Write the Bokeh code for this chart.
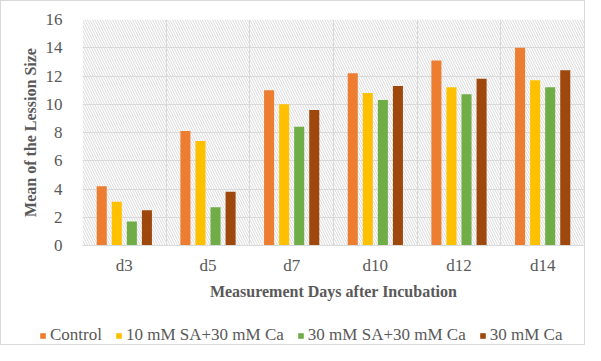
from bokeh.plotting import figure
from bokeh.models import ColumnDataSource, FixedTicker, BoxAnnotation, Legend, LegendItem
from bokeh.embed import file_html
from bokeh.resources import INLINE

days = ["d3", "d5", "d7", "d10", "d12", "d14"]
series_names = ["Control", "10 mM SA+30 mM Ca", "30 mM SA+30 mM Ca", "30 mM Ca"]
control = [4.2, 8.1, 11.0, 12.2, 13.1, 14.0]
sa10_ca30 = [3.1, 7.4, 10.0, 10.8, 11.2, 11.7]
sa30_ca30 = [1.7, 2.7, 8.4, 10.3, 10.7, 11.2]
ca30 = [2.5, 3.8, 9.6, 11.3, 11.8, 12.4]
y_ticks = [0, 2, 4, 6, 8, 10, 12, 14, 16]

colors = ["#ED7D31", "#FFC000", "#70AD47", "#9E480E"]
offsets = [-0.27, -0.09, 0.09, 0.27]
FONT = "Liberation Serif"
GRAY = "#595959"
BORDER = "1px solid #d9d9d9"

p = figure(width=585, height=318, output_backend="svg", toolbar_location=None,
           x_range=(0, len(days)), y_range=(0, 16),
           min_border_left=81, min_border_right=2, min_border_top=18, min_border_bottom=74)
p.outline_line_color = None
p.styles = {"border-top": BORDER, "border-left": BORDER, "border-right": BORDER}

bg = BoxAnnotation(fill_color="white", fill_alpha=1.0, hatch_pattern="\\", hatch_color="#d9d9d9",
                   hatch_scale=5, hatch_weight=1, line_color=None, level="image")
p.add_layout(bg)

centers = [i + 0.5 for i in range(len(days))]
for vals, name, col, off in zip([control, sa10_ca30, sa30_ca30, ca30], series_names, colors, offsets):
    src = ColumnDataSource(dict(x=[c + off for c in centers], top=vals))
    p.vbar(x="x", top="top", bottom=0, width=0.12, source=src, fill_color=col, line_color=None)

# axes
p.xaxis.ticker = FixedTicker(ticks=centers)
p.xaxis.major_label_overrides = {c: d for c, d in zip(centers, days)}
p.xgrid.ticker = FixedTicker(ticks=list(range(len(days) + 1)))
p.yaxis.ticker = FixedTicker(ticks=y_ticks)
for ax in (p.xaxis, p.yaxis):
    ax.major_tick_line_color = None
    ax.minor_tick_line_color = None
    ax.major_label_text_font = FONT
    ax.major_label_text_font_size = "17px"
    ax.major_label_text_color = GRAY
    ax.axis_label_text_font = FONT
    ax.axis_label_text_font_size = "16px"
    ax.axis_label_text_font_style = "bold"
    ax.axis_label_text_color = GRAY
p.yaxis.axis_line_color = None
p.xaxis.axis_line_color = "#d9d9d9"
p.xaxis.major_label_standoff = 4
p.yaxis.major_label_standoff = 14
p.xaxis.axis_label = "Measurement Days after Incubation"
p.yaxis.axis_label = "Mean of the Lession Size"
p.xaxis.axis_label_standoff = 5
p.yaxis.axis_label_standoff = 4

p.xgrid.grid_line_color = "#d9d9d9"
p.ygrid.grid_line_color = "#d9d9d9"
p.xgrid.level = "underlay"
p.ygrid.level = "underlay"

# legend strip below the chart (separate root so its frame spans the full width)
lp = figure(width=585, height=27, output_backend="svg", toolbar_location=None,
            x_range=(0, 1), y_range=(0, 1), x_axis_location=None, y_axis_location=None,
            min_border_left=0, min_border_right=0, min_border_top=0, min_border_bottom=0)
lp.grid.visible = False
lp.outline_line_color = None
lp.styles = {"border-bottom": BORDER, "border-left": BORDER, "border-right": BORDER}
items = []
for name, col in zip(series_names, colors):
    r = lp.quad(left=[5], right=[6], bottom=[5], top=[6], fill_color=col, line_color=None)
    items.append(LegendItem(label=name, renderers=[r]))
legend = Legend(items=items, orientation="horizontal", location=(38, 0),
                label_text_font=FONT, label_text_font_size="17px", label_text_color=GRAY,
                glyph_width=7, glyph_height=7, label_standoff=4, spacing=13,
                border_line_color=None, background_fill_alpha=0, margin=0, padding=2)
lp.add_layout(legend, "center")

open("out.html", "w").write(file_html([p, lp], INLINE))
